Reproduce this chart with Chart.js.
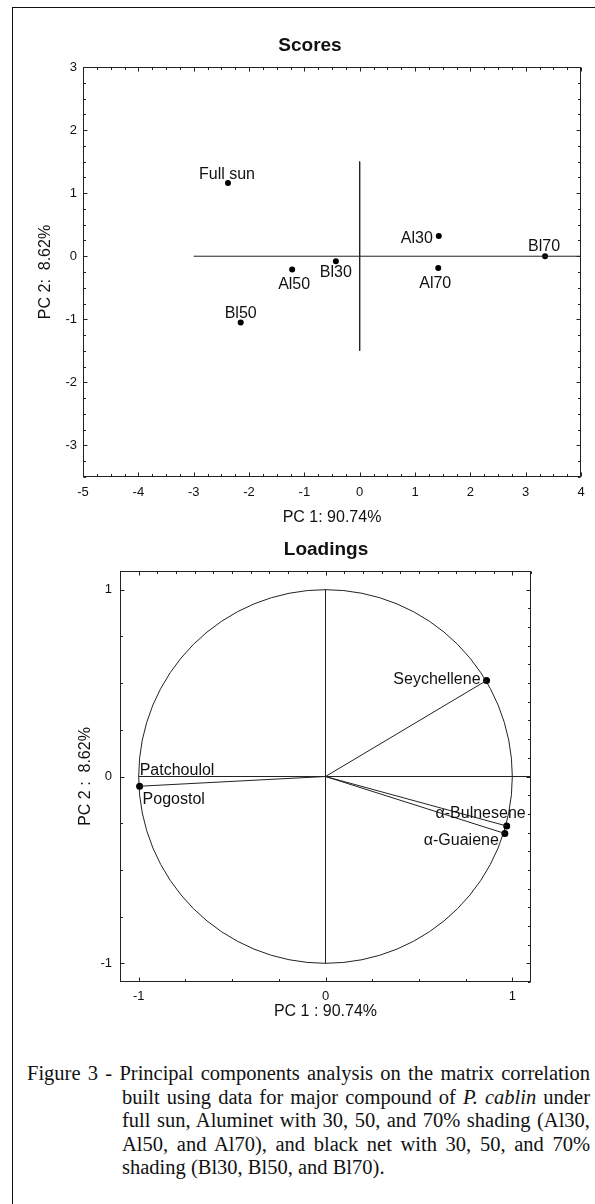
<!DOCTYPE html>
<html>
<head>
<meta charset="utf-8">
<script src="https://cdn.jsdelivr.net/npm/chart.js@4.4.1/dist/chart.umd.min.js"></script>
<style>
  html, body { margin: 0; padding: 0; background: #fff; }
  #page { position: relative; width: 595px; height: 1204px; overflow: hidden; }
  #frame { position: absolute; left: 12px; top: 7px; width: 700px; height: 1300px;
           border-left: 1px solid #111; border-top: 1px solid #111; }
  canvas { position: absolute; left: 0; }
  .cap { position: absolute; font: 20.5px/23.5px "Liberation Serif", "Times New Roman", serif;
         color: #111; text-align: justify; text-align-last: justify; }
  .cap.last { text-align-last: left; }
</style>
</head>
<body>
<div id="page">
  <div id="frame"></div>
  <canvas id="scores" width="595" height="535" style="top:0"></canvas>
  <canvas id="loadings" width="595" height="495" style="top:535px"></canvas>
  <div class="cap" style="left:27px; top:1062px; width:563px">Figure 3 - Principal components analysis on the matrix correlation</div>
  <div class="cap" style="left:122px; top:1085.5px; width:468px">built using data for major compound of <i>P. cablin</i> under</div>
  <div class="cap" style="left:122px; top:1109px; width:468px">full sun, Aluminet with 30, 50, and 70% shading (Al30,</div>
  <div class="cap" style="left:122px; top:1132.5px; width:468px">Al50, and Al70), and black net with 30, 50, and 70%</div>
  <div class="cap last" style="left:122px; top:1156px; width:468px">shading (Bl30, Bl50, and Bl70).</div>
</div>
<script>
// scores of the samples on PC1 / PC2
const scoreNames = ['Full sun', 'Al30', 'Al50', 'Al70', 'Bl30', 'Bl50', 'Bl70'];
const scorePC1 = [-2.38, 1.43, -1.22, 1.42, -0.43, -2.15, 3.35];
const scorePC2 = [1.16, 0.32, -0.21, -0.185, -0.08, -1.05, 0.0];
// cross drawn through the origin of the score plot
const crossH = [[-3, 0], [4, 0]];
const crossV = [[0, 1.5], [0, -1.5]];

// loadings of the compounds
const loadNames = ['Patchoulol', 'Pogostol', 'Seychellene', 'α-Bulnesene', 'α-Guaiene'];
const loadPC1 = [-1.0, -0.995, 0.862, 0.97, 0.96];
const loadPC2 = [0.0, -0.052, 0.514, -0.265, -0.305];
const loadAxisH = [[0, 0], [1.1, 0]];
const loadAxisV = [[0, 1], [0, -1]];

// where each label sits next to its point: align, dx, baseline dy
const scorePlace = [['center', -1, -4], ['right', -6, 6.5], ['center', 2, 20], ['center', -3, 20.5],
                    ['center', 0, 16], ['center', 0, -4.5], ['center', -1, -5]];
const loadPlace = [['left', 1, -1.5], ['left', 3, 17.5], ['right', -6, 3.5], ['right', 19, -8.5], ['right', -6, 11.5]];

Chart.defaults.font.family = '"Liberation Sans", Arial, sans-serif';
Chart.defaults.color = '#111';

const toPts = pairs => pairs.map(([x, y]) => ({x, y}));
const ink = '#222';

const frame = {
  id: 'frame',
  beforeDatasetsDraw(chart, args, o) {
    if (!o.circle) return;
    const {ctx, scales: {x, y}} = chart;
    const cx = x.getPixelForValue(0), cy = y.getPixelForValue(0);
    ctx.save();
    ctx.strokeStyle = ink;
    ctx.lineWidth = 1;
    ctx.beginPath();
    ctx.ellipse(cx, cy, x.getPixelForValue(1) - cx, cy - y.getPixelForValue(1), 0, 0, Math.PI * 2);
    ctx.stroke();
    ctx.restore();
  },
  afterDraw(chart, args, o) {
    const {ctx, chartArea: a, scales: {x, y}} = chart;
    ctx.save();
    ctx.strokeStyle = ink;
    ctx.lineWidth = 1;
    const L = Math.round(a.left) + 0.5, R = Math.round(a.right) - 0.5;
    const T = Math.round(a.top) + 0.5, B = Math.round(a.bottom) - 0.5;
    ctx.strokeRect(L, T, R - L, B - T);
    // small tick marks pointing into the plot
    ctx.beginPath();
    for (const [side, step] of o.marks) {
      const sc = (side === 'top' || side === 'bottom') ? x : y;
      for (let k = Math.ceil(sc.min / step - 1e-9); k * step <= sc.max + 1e-9; k++) {
        const v = k * step;
        const len = Math.abs(v - Math.round(v)) < 1e-9 ? 4 : 2.5;
        const p = Math.round(sc.getPixelForValue(v)) + 0.5;
        if (side === 'left') { ctx.moveTo(L, p); ctx.lineTo(L + len, p); }
        if (side === 'right') { ctx.moveTo(R, p); ctx.lineTo(R - len, p); }
        if (side === 'top') { ctx.moveTo(p, T); ctx.lineTo(p, T + len); }
        if (side === 'bottom') { ctx.moveTo(p, B); ctx.lineTo(p, B - len); }
      }
    }
    ctx.stroke();

    ctx.fillStyle = '#111';
    ctx.font = 'bold 19px "Liberation Sans", Arial, sans-serif';
    ctx.textAlign = 'center';
    ctx.textBaseline = 'middle';
    ctx.fillText(o.title, o.titleX, o.titleY);

    ctx.font = '16px "Liberation Sans", Arial, sans-serif';
    ctx.textBaseline = 'alphabetic';
    chart.getDatasetMeta(o.labelSet).data.forEach((pt, i) => {
      const [align, dx, dy] = o.place[i];
      ctx.textAlign = align;
      ctx.fillText(o.names[i], pt.x + dx, pt.y + dy);
    });
    ctx.restore();
  }
};

const lineSet = pts => ({data: pts, showLine: true, borderColor: ink, borderWidth: 1, pointRadius: 0});

function axis(min, max, title, tickPad, titlePad, size, horizontal) {
  return {
    type: 'linear', min, max,
    ticks: {stepSize: 1, includeBounds: false, padding: tickPad, font: {size: 13}, color: '#111'},
    grid: {display: false, drawTicks: false},
    border: {display: false},
    title: {display: true, text: title, font: {size: 16}, color: '#111', padding: titlePad},
    afterFit(s) { if (horizontal) s.height = size; else s.width = size; }
  };
}

new Chart(document.getElementById('scores'), {
  type: 'scatter',
  data: {
    datasets: [
      lineSet(toPts(crossH)),
      lineSet(toPts(crossV)),
      {data: scoreNames.map((n, i) => ({x: scorePC1[i], y: scorePC2[i]})),
       pointRadius: 3, pointBackgroundColor: '#000', pointBorderWidth: 0}
    ]
  },
  options: {
    responsive: false, animation: false, events: [],
    layout: {padding: {left: 0, top: 67, right: 14, bottom: 0}},
    plugins: {
      legend: {display: false}, tooltip: {enabled: false},
      frame: {title: 'Scores', titleX: 310, titleY: 46, labelSet: 2, names: scoreNames, place: scorePlace,
              marks: [['left', 0.25], ['right', 0.25], ['top', 0.25], ['bottom', 0.25]]}
    },
    scales: {
      x: axis(-5, 4, 'PC 1: 90.74%', 8, {top: 0, bottom: 7.4}, 58, true),
      y: axis(-3.5, 3, 'PC 2:  8.62%', 6, {top: 36.4, bottom: 0}, 83, false)
    }
  },
  plugins: [frame]
});

new Chart(document.getElementById('loadings'), {
  type: 'scatter',
  data: {
    datasets: [
      lineSet(toPts(loadAxisH)),
      lineSet(toPts(loadAxisV)),
      ...loadNames.map((n, i) => lineSet([{x: 0, y: 0}, {x: loadPC1[i], y: loadPC2[i]}])),
      {data: loadNames.map((n, i) => ({x: loadPC1[i], y: loadPC2[i]})),
       pointRadius: loadNames.map(n => n === 'Patchoulol' ? 0 : 3.5), pointBackgroundColor: '#000', pointBorderWidth: 0}
    ]
  },
  options: {
    responsive: false, animation: false, events: [],
    layout: {padding: {left: 0, top: 36, right: 64, bottom: 0}},
    plugins: {
      legend: {display: false}, tooltip: {enabled: false},
      frame: {title: 'Loadings', titleX: 326, titleY: 14.7, labelSet: 7, names: loadNames, place: loadPlace,
              circle: true,
              marks: [['left', 0.25], ['bottom', 0.25], ['top', 0.1], ['right', 0.1]]}
    },
    scales: {
      x: axis(-1.1, 1.1, 'PC 1 : 90.74%', 7, {top: 0, bottom: 8.7}, 48, true),
      y: axis(-1.1, 1.1, 'PC 2 :  8.62%', 8, {top: 76.1, bottom: 0}, 120, false)
    }
  },
  plugins: [frame]
});
</script>
</body>
</html>
